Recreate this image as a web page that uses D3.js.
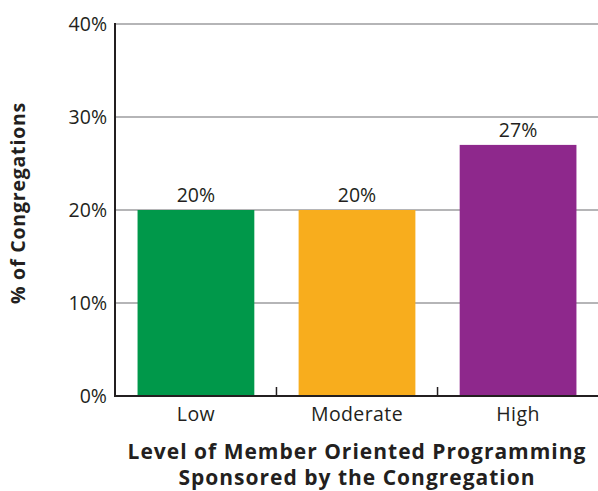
<!DOCTYPE html>
<html>
<head>
<meta charset="utf-8">
<script src="https://cdn.jsdelivr.net/npm/d3@7"></script>
<style>
  body { margin: 0; background: #fff; }
  svg text { font-family: "Open Sans", Lato, sans-serif; fill: #231f20; }
</style>
</head>
<body>
<div id="chart"></div>
<script>
const categories = ["Low", "Moderate", "High"];
const values = [20, 20, 27];
const colors = ["#00984a", "#f8ad1d", "#8e288c"];
const yTicks = [0, 10, 20, 30, 40];

const width = 598, height = 491;
const svg = d3.select("#chart").append("svg")
  .attr("width", width).attr("height", height);

const x = d3.scaleBand().domain(categories).range([115, 599]).paddingInner(0.275).paddingOuter(0.14);
const y = d3.scaleLinear().domain([0, 40]).range([396, 24]);

// gridlines
svg.selectAll(".grid").data(yTicks.filter(d => d > 0)).enter()
  .append("line")
  .attr("x1", 115).attr("x2", width)
  .attr("y1", d => y(d)).attr("y2", d => y(d))
  .attr("stroke", "#9d9d9f").attr("stroke-width", 1.5);

// bars
svg.selectAll(".bar").data(values).enter()
  .append("rect")
  .attr("x", (d, i) => x(categories[i]))
  .attr("width", x.bandwidth())
  .attr("y", d => y(d))
  .attr("height", d => y(0) - y(d))
  .attr("fill", (d, i) => colors[i]);

// value labels
svg.selectAll(".val").data(values).enter()
  .append("text")
  .attr("x", (d, i) => x(categories[i]) + x.bandwidth() / 2)
  .attr("y", d => y(d) - 8)
  .attr("text-anchor", "middle")
  .style("font-size", "19.5px")
  .text(d => d + "%");

// y axis
svg.append("line").attr("x1", 115).attr("x2", 115).attr("y1", y(40) - 1).attr("y2", y(0) + 1)
  .attr("stroke", "#231f20").attr("stroke-width", 2);
svg.selectAll(".ytick").data(yTicks).enter()
  .append("text")
  .attr("x", 107).attr("y", d => y(d) + 7)
  .attr("text-anchor", "end")
  .style("font-size", "19.5px")
  .text(d => d + "%");

// x axis
svg.append("line").attr("x1", 114).attr("x2", width).attr("y1", y(0)).attr("y2", y(0))
  .attr("stroke", "#231f20").attr("stroke-width", 2);
const step = x.step();
svg.selectAll(".xsep").data(categories.slice(1)).enter()
  .append("line")
  .attr("x1", d => x(d) - (step - x.bandwidth()) / 2)
  .attr("x2", d => x(d) - (step - x.bandwidth()) / 2)
  .attr("y1", y(0)).attr("y2", y(0) - 9)
  .attr("stroke", "#231f20").attr("stroke-width", 1.5);
svg.selectAll(".xlab").data(categories).enter()
  .append("text")
  .attr("x", d => x(d) + x.bandwidth() / 2)
  .attr("y", 421)
  .attr("text-anchor", "middle")
  .style("font-size", "19.5px")
  .style("letter-spacing", "0.4px")
  .text(d => d);

// axis titles
const xt = svg.append("text").attr("text-anchor", "middle")
  .style("font-size", "21px").style("font-weight", "bold")
  .style("letter-spacing", "1px");
xt.append("tspan").attr("x", 357).attr("y", 459).text("Level of Member Oriented Programming");
xt.append("tspan").attr("x", 357).attr("y", 485).text("Sponsored by the Congregation");

svg.append("text")
  .attr("transform", "translate(25,203) rotate(-90)")
  .attr("text-anchor", "middle")
  .style("font-size", "19.5px").style("font-weight", "bold")
  .style("letter-spacing", "0.8px")
  .text("% of Congregations");
</script>
</body>
</html>
